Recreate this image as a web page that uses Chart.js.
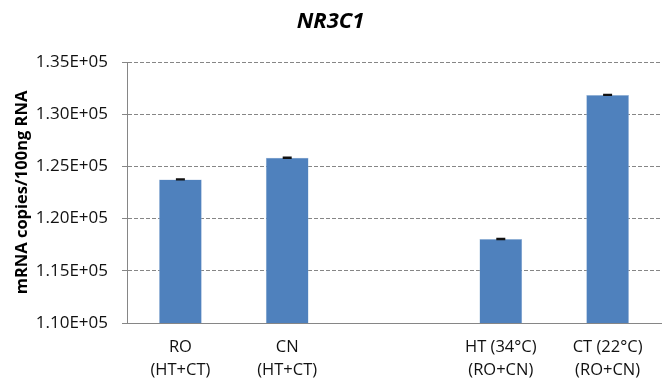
<!DOCTYPE html>
<html>
<head>
<meta charset="utf-8">
<script src="https://cdn.jsdelivr.net/npm/chart.js@4/dist/chart.umd.min.js"></script>
<style>
  html, body { margin: 0; padding: 0; background: #fff; }
  #wrap { width: 665px; height: 380px; position: relative; }
</style>
</head>
<body>
<div id="wrap"><canvas id="c" width="665" height="380"></canvas></div>
<script>
// NR3C1 expression: group means with standard error
const categories = [
  ['RO', '(HT+CT)'],
  ['CN', '(HT+CT)'],
  '',
  ['HT (34°C)', '(RO+CN)'],
  ['CT (22°C)', '(RO+CN)']
];
const meanCopies = [123750, 125830, null, 118050, 131850];
const errCopies  = [40, 40, null, 40, 40];
const yTicks = [110000, 115000, 120000, 125000, 130000, 135000];

const FONT = "'Open Sans', 'Lato', sans-serif";
const GREY = '#868686';

// draws small error bars with caps on top of each bar
const errorBars = {
  id: 'errorBars',
  afterDatasetsDraw(chart) {
    const ctx = chart.ctx;
    const y = chart.scales.y;
    const meta = chart.getDatasetMeta(0);
    ctx.save();
    ctx.strokeStyle = '#111';
    ctx.lineWidth = 1.5;
    meta.data.forEach((bar, i) => {
      const v = meanCopies[i], e = errCopies[i];
      if (v == null || e == null) return;
      const top = y.getPixelForValue(v + e);
      const bot = y.getPixelForValue(v - e);
      const x = bar.x;
      ctx.beginPath();
      ctx.moveTo(x, top); ctx.lineTo(x, bot);
      ctx.moveTo(x - 4.5, top); ctx.lineTo(x + 4.5, top);
      ctx.moveTo(x - 4.5, bot); ctx.lineTo(x + 4.5, bot);
      ctx.stroke();
    });
    ctx.restore();
  }
};

new Chart(document.getElementById('c'), {
  type: 'bar',
  data: {
    labels: categories,
    datasets: [{
      data: meanCopies,
      backgroundColor: '#4F81BD',
      borderColor: '#A7C0DE',
      borderWidth: 0.5,
      barPercentage: 0.4,
      categoryPercentage: 1.0
    }]
  },
  options: {
    responsive: false,
    animation: false,
    layout: { padding: { left: 0, right: 4, top: 0, bottom: 0 } },
    plugins: {
      legend: { display: false },
      tooltip: { enabled: false },
      title: {
        display: true,
        text: 'NR3C1',
        color: '#000',
        font: { family: FONT, size: 22, weight: 'bold', style: 'italic', lineHeight: 1.2 },
        padding: { top: 9, bottom: 26.6 }
      }
    },
    scales: {
      x: {
        grid: { display: false, drawTicks: false },
        border: { display: true, color: GREY, width: 1 },
        ticks: {
          color: '#111',
          font: { family: FONT, size: 16.5, lineHeight: 1.4 },
          padding: 13,
          maxRotation: 0,
          autoSkip: false
        },
        afterFit(scale) { scale.height = 57; }
      },
      y: {
        min: 110000,
        max: 135000,
        afterBuildTicks(scale) { scale.ticks = yTicks.map(v => ({ value: v })); },
        grid: { color: GREY, lineWidth: 1, tickLength: 5, tickColor: GREY },
        border: { display: true, color: GREY, width: 1, dash: [4, 2] },
        ticks: {
          color: '#111',
          font: { family: FONT, size: 17 },
          padding: 14,
          callback: v => (v / 100000).toFixed(2) + 'E+05'
        },
        title: {
          display: true,
          text: 'mRNA copies/100ng RNA',
          color: '#000',
          font: { family: FONT, size: 16.5, weight: 'bold' },
          padding: { top: 12, bottom: 0 }
        },
        afterFit(scale) { scale.width = 127; }
      }
    }
  },
  plugins: [errorBars]
});
</script>
</body>
</html>
